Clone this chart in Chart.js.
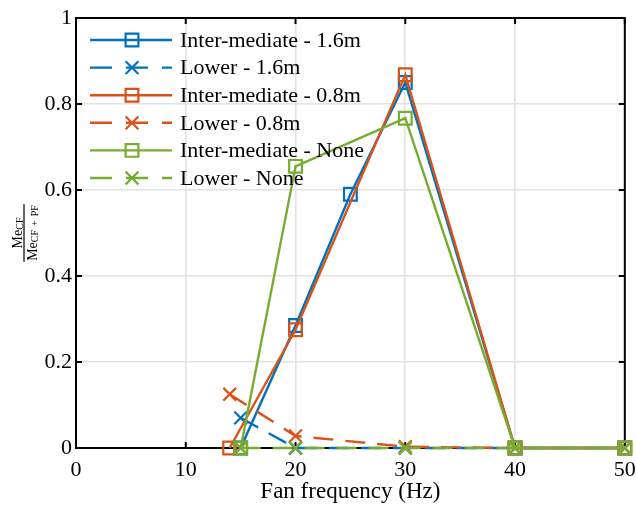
<!DOCTYPE html>
<html lang="en">
<head>
  <meta charset="UTF-8">
  <title>Me ratio vs fan frequency</title>
  <style>
    body {
      margin: 0;
      background: #ffffff;
    }
    #wrap {
      width: 636px;
      height: 507px;
    }
  </style>
  <script src="https://cdn.jsdelivr.net/npm/chart.js"></script>
</head>
<body>
  <div id="wrap"><canvas id="meChart"></canvas></div>

  <script>
    // data
    var freqInter16 = [15, 20, 25, 30, 40, 50];
    var inter16 = [0, 0.285, 0.59, 0.85, 0, 0];
    var freqLower16 = [15, 20, 30, 40, 50];
    var lower16 = [0.07, 0, 0, 0, 0];
    var freqInter08 = [14, 20, 30, 40, 50];
    var inter08 = [0, 0.275, 0.868, 0, 0];
    var freqLower08 = [14, 20, 30, 40, 50];
    var lower08 = [0.125, 0.028, 0.003, 0, 0];
    var freqInterNone = [15, 20, 30, 40, 50];
    var interNone = [0, 0.655, 0.767, 0, 0];
    var freqLowerNone = [15, 20, 30, 40, 50];
    var lowerNone = [0, 0, 0, 0, 0];

    var xTicks = [0, 10, 20, 30, 40, 50];
    var yTicks = [0, 0.2, 0.4, 0.6, 0.8, 1];

    var blue = '#0072BD';
    var orange = '#D95319';
    var green = '#77AC30';
    var serif = "'Liberation Serif', 'DejaVu Serif', serif";

    function pts(xs, ys) {
      return xs.map(function (x, i) { return { x: x, y: ys[i] }; });
    }

    function series(label, xs, ys, color, dashed, order) {
      return {
        label: label,
        data: pts(xs, ys),
        borderColor: color,
        borderWidth: 2.4,
        borderDash: dashed ? [20, 12] : [],
        pointStyle: dashed ? 'crossRot' : 'rect',
        pointRadius: 9,
        pointBorderWidth: 2.2,
        pointBorderColor: color,
        pointBackgroundColor: 'rgba(0,0,0,0)',
        fill: false,
        tension: 0,
        clip: false,
        order: order
      };
    }

    // frame with inward ticks, drawn under the data
    var framePlugin = {
      id: 'frame',
      beforeDatasetsDraw: function (chart) {
        var ctx = chart.ctx, a = chart.chartArea;
        var sx = chart.scales.x, sy = chart.scales.y;
        ctx.save();
        ctx.strokeStyle = '#000';
        ctx.lineWidth = 2;
        ctx.setLineDash([]);
        ctx.strokeRect(a.left, a.top, a.right - a.left, a.bottom - a.top);
        ctx.beginPath();
        xTicks.forEach(function (t) {
          var px = sx.getPixelForValue(t);
          ctx.moveTo(px, a.bottom); ctx.lineTo(px, a.bottom - 6);
          ctx.moveTo(px, a.top); ctx.lineTo(px, a.top + 6);
        });
        yTicks.forEach(function (t) {
          var py = sy.getPixelForValue(t);
          ctx.moveTo(a.left, py); ctx.lineTo(a.left + 6, py);
          ctx.moveTo(a.right, py); ctx.lineTo(a.right - 6, py);
        });
        ctx.stroke();
        ctx.restore();
      }
    };

    function drawMarker(ctx, style, x, y, r) {
      ctx.beginPath();
      if (style === 'rect') {
        var s = Math.SQRT1_2 * r;
        ctx.rect(x - s, y - s, 2 * s, 2 * s);
      } else {
        var o = Math.SQRT1_2 * r;
        ctx.moveTo(x - o, y - o); ctx.lineTo(x + o, y + o);
        ctx.moveTo(x - o, y + o); ctx.lineTo(x + o, y - o);
      }
      ctx.stroke();
    }

    // matlab style legend: line + marker, no box
    var legendPlugin = {
      id: 'matLegend',
      afterDatasetsDraw: function (chart) {
        var ctx = chart.ctx;
        ctx.save();
        chart.data.datasets.forEach(function (ds, i) {
          var y = 40 + 27.6 * i;
          ctx.strokeStyle = ds.borderColor;
          ctx.lineWidth = 2.4;
          ctx.setLineDash(ds.borderDash.length ? [22, 14] : []);
          ctx.beginPath();
          ctx.moveTo(90, y); ctx.lineTo(172, y);
          ctx.stroke();
          ctx.setLineDash([]);
          ctx.lineWidth = 2.2;
          drawMarker(ctx, ds.pointStyle, 132, y, 9);
          ctx.fillStyle = '#000';
          ctx.font = '22px ' + serif;
          ctx.textBaseline = 'middle';
          ctx.textAlign = 'left';
          ctx.fillText(ds.label, 180, y + 1);
        });
        ctx.restore();
      }
    };

    // y label: Me_CF / Me_CF+PF as a rotated fraction
    var yLabelPlugin = {
      id: 'yFrac',
      afterDraw: function (chart) {
        var ctx = chart.ctx;
        var cy = (chart.chartArea.top + chart.chartArea.bottom) / 2;
        var big = '14px ' + serif, small = '10px ' + serif;
        ctx.save();
        ctx.translate(24, cy);
        ctx.rotate(-Math.PI / 2);
        ctx.fillStyle = '#000';
        ctx.textBaseline = 'alphabetic';
        ctx.textAlign = 'left';

        // sub is a list of pieces with gaps between them
        function frac(sub, gap, base) {
          ctx.font = big;
          var w1 = ctx.measureText('Me').width;
          ctx.font = small;
          var ws = sub.map(function (p) { return ctx.measureText(p).width; });
          var w2 = ws.reduce(function (a, b) { return a + b; }, 0) + gap * (sub.length - 1);
          var x = -(w1 + w2) / 2;
          ctx.font = big;
          ctx.fillText('Me', x, base);
          x += w1;
          ctx.font = small;
          sub.forEach(function (p, k) {
            ctx.fillText(p, x, base + 1.5);
            x += ws[k] + gap;
          });
          return w1 + w2;
        }
        frac(['CF'], 0, -2.5);
        var w = frac(['CF', '+', 'PF'], 4, 12.5);
        ctx.fillRect(-w / 2 - 1, -0.6, w + 2, 1.2);
        ctx.restore();
      }
    };

    var ctxMe = document.getElementById('meChart').getContext('2d');
    var meChart = new Chart(ctxMe, {
      type: 'line',
      data: {
        datasets: [
          series('Inter-mediate - 1.6m', freqInter16, inter16, blue, false, 6),
          series('Lower - 1.6m', freqLower16, lower16, blue, true, 5),
          series('Inter-mediate - 0.8m', freqInter08, inter08, orange, false, 4),
          series('Lower - 0.8m', freqLower08, lower08, orange, true, 3),
          series('Inter-mediate - None', freqInterNone, interNone, green, false, 2),
          series('Lower - None', freqLowerNone, lowerNone, green, true, 1)
        ]
      },
      options: {
        responsive: true,
        maintainAspectRatio: false,
        animation: false,
        layout: { padding: { top: 18, right: 11, left: 0, bottom: 0 } },
        plugins: {
          legend: { display: false },
          tooltip: { enabled: false }
        },
        scales: {
          x: {
            type: 'linear',
            min: 0,
            max: 50,
            afterBuildTicks: function (s) { s.ticks = xTicks.map(function (v) { return { value: v }; }); },
            afterFit: function (s) { s.height = 59; s.paddingRight = 0; s.paddingLeft = 0; },
            ticks: { font: { family: serif, size: 22 }, color: '#000', padding: 9, maxRotation: 0 },
            grid: { color: '#e2e2e2', lineWidth: 1.6, drawTicks: false },
            border: { display: false },
            title: {
              display: true,
              text: 'Fan frequency (Hz)',
              font: { family: serif, size: 23 },
              color: '#000',
              padding: { top: 0, bottom: 1 }
            }
          },
          y: {
            min: 0,
            max: 1,
            afterBuildTicks: function (s) { s.ticks = yTicks.map(function (v) { return { value: v }; }); },
            afterFit: function (s) { s.width = 76; },
            ticks: {
              font: { family: serif, size: 22 },
              color: '#000',
              padding: 4,
              callback: function (v) { return (v === 0 || v === 1) ? String(v) : v.toFixed(1); }
            },
            grid: { color: '#e2e2e2', lineWidth: 1.6, drawTicks: false },
            border: { display: false }
          }
        }
      },
      plugins: [framePlugin, legendPlugin, yLabelPlugin]
    });
  </script>
</body>
</html>
